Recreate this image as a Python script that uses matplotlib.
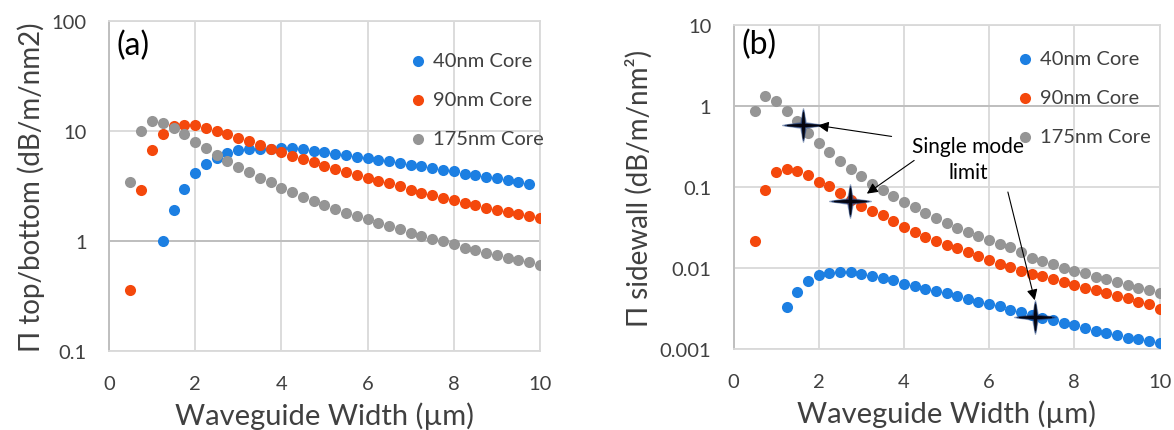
import matplotlib
matplotlib.use("Agg")
import matplotlib.pyplot as plt
from matplotlib.path import Path
from matplotlib.ticker import FixedLocator, FuncFormatter, NullLocator

plt.rcParams['font.family'] = ['Lato', 'DejaVu Sans']

# waveguide widths (um)
width = [0.5, 0.75, 1.0, 1.25, 1.5, 1.75, 2.0, 2.25, 2.5, 2.75,
         3.0, 3.25, 3.5, 3.75, 4.0, 4.25, 4.5, 4.75, 5.0, 5.25,
         5.5, 5.75, 6.0, 6.25, 6.5, 6.75, 7.0, 7.25, 7.5, 7.75,
         8.0, 8.25, 8.5, 8.75, 9.0, 9.25, 9.5, 9.75, 10.0]
width_40_a = width[3:-1]   # 1.25 .. 9.75
width_40_b = width[3:]     # 1.25 .. 10

# (a) top/bottom loss
a_40 = [1.0, 1.90, 2.99, 4.12, 4.98, 5.65, 6.27, 6.68, 6.82, 6.82,
        6.9, 7.05, 6.96, 6.82, 6.63, 6.5, 6.23, 6.05, 5.81, 5.65,
        5.45, 5.34, 5.16, 4.95, 4.8, 4.6, 4.45, 4.3, 4.1, 3.95,
        3.8, 3.7, 3.6, 3.45, 3.27]
a_90 = [0.36, 2.91, 6.7, 9.47, 11.0, 11.3, 11.3, 10.6, 10.0, 9.33,
        8.7, 8.1, 7.45, 6.9, 6.45, 5.97, 5.61, 5.19, 4.81, 4.55,
        4.21, 3.96, 3.74, 3.51, 3.35, 3.16, 2.91, 2.75, 2.62, 2.48,
        2.34, 2.20, 2.11, 2.01, 1.91, 1.84, 1.77, 1.69, 1.62]
a_175 = [3.42, 9.9, 12.3, 11.9, 10.6, 9.3, 8.0, 6.96, 6.1, 5.38,
         4.68, 4.21, 3.74, 3.42, 3.03, 2.79, 2.51, 2.30, 2.11, 1.97,
         1.80, 1.67, 1.57, 1.45, 1.36, 1.28, 1.19, 1.12, 1.05, 0.99,
         0.93, 0.87, 0.83, 0.78, 0.75, 0.70, 0.67, 0.64, 0.60]

# (b) sidewall loss
b_40 = [0.0033, 0.0051, 0.0070, 0.0082, 0.0088, 0.0091, 0.0089, 0.0086, 0.0081, 0.0077,
        0.0071, 0.0065, 0.0060, 0.0056, 0.0052, 0.0049, 0.0045, 0.0042, 0.0039, 0.00365,
        0.0034, 0.0031, 0.0029, 0.00265, 0.00245, 0.00228, 0.00213, 0.00198, 0.00185, 0.00171,
        0.0016, 0.0015, 0.0014, 0.00133, 0.00126, 0.00119]
b_90 = [0.022, 0.093, 0.152, 0.168, 0.16, 0.140, 0.117, 0.103, 0.085, 0.07,
        0.059, 0.051, 0.045, 0.038, 0.0326, 0.0283, 0.0247, 0.0218, 0.0193, 0.0176,
        0.0159, 0.0141, 0.0127, 0.0114, 0.0104, 0.0094, 0.0086, 0.0080, 0.0074, 0.0068,
        0.0063, 0.0058, 0.0054, 0.0050, 0.0046, 0.0043, 0.0039, 0.0036, 0.0032]
b_175 = [0.86, 1.33, 1.14, 0.86, 0.65, 0.47, 0.35, 0.27, 0.21, 0.168,
         0.137, 0.111, 0.093, 0.078, 0.066, 0.057, 0.048, 0.042, 0.0365, 0.0318,
         0.0279, 0.0249, 0.0221, 0.0197, 0.0182, 0.0158, 0.0136, 0.0123, 0.0112, 0.0102,
         0.0094, 0.0087, 0.0079, 0.0074, 0.0068, 0.0063, 0.0058, 0.0054, 0.0050]

# single mode limit points and arrows (text -> star)
sm_x = [1.64, 2.74, 7.07]
sm_y = [0.578, 0.0677, 0.00253]
arrow_from = [(3.71, 0.423), (4.24, 0.214), (6.44, 0.0873)]
arrow_to = [(1.98, 0.578), (3.13, 0.0834), (7.07, 0.00405)]

labels = ["40nm Core", "90nm Core", "175nm Core"]
colors = ["#1c7fe2", "#f4480c", "#959595"]
text_col = "#404040"


def star_path(inner):
    return Path([(0, 1), (inner, inner), (1.25, 0), (inner, -inner), (0, -1),
                 (-inner, -inner), (-1.25, 0), (-inner, inner), (0, 1)],
                [Path.MOVETO] + [Path.LINETO] * 7 + [Path.CLOSEPOLY])


fig = plt.figure(figsize=(11.74, 4.31), dpi=100)
ax1 = fig.add_axes([0.0928, 0.1833, 0.3671, 0.7657])
ax2 = fig.add_axes([0.6248, 0.1868, 0.3629, 0.7529])


def style_axis(ax, ylim, yticks):
    ax.set_yscale('log')
    ax.set_xlim(0, 10)
    ax.set_ylim(*ylim)
    ax.xaxis.set_major_locator(FixedLocator([0, 2, 4, 6, 8, 10]))
    ax.yaxis.set_major_locator(FixedLocator(yticks))
    ax.yaxis.set_minor_locator(NullLocator())
    ax.yaxis.set_major_formatter(FuncFormatter(lambda v, p: f"{v:g}"))
    ax.grid(True, color='#d9d9d9', lw=1.3)
    ax.set_axisbelow(True)
    ax.axhline(1, color='#bfbfbf', lw=1.4, zorder=1)
    for s in ['top', 'right', 'bottom']:
        ax.spines[s].set_color('#d9d9d9')
        ax.spines[s].set_linewidth(1.3)
    ax.spines['left'].set_color('#bfbfbf')
    ax.spines['left'].set_linewidth(1.4)
    ax.tick_params(length=0, labelsize=14.5, labelcolor=text_col)
    ax.tick_params(axis='y', pad=16)
    ax.tick_params(axis='x', pad=17)
    ax.set_xlabel("Waveguide Width (\u00b5m)", fontsize=21, color=text_col, labelpad=7)


# panel (a)
for xs, ys, lab, c in zip([width_40_a, width, width], [a_40, a_90, a_175], labels, colors):
    ax1.scatter(xs, ys, s=64, color=c, label=lab, zorder=3, linewidths=0)
style_axis(ax1, (0.1, 100), [0.1, 1, 10, 100])
ax1.set_ylabel("\u03a0 top/bottom (dB/m/nm2)", fontsize=20, color=text_col, labelpad=5)
ax1.text(0.018, 0.927, "(a)", transform=ax1.transAxes, fontsize=23, va='center', color='black')
ax1.legend(loc='upper left', bbox_to_anchor=(0.705, 0.905), frameon=False, fontsize=14.5,
           handlelength=0.5, handletextpad=0.5, labelspacing=1.08, borderpad=0,
           borderaxespad=0, labelcolor=text_col)

# panel (b)
for xs, ys, lab, c in zip([width_40_b, width, width], [b_40, b_90, b_175], labels, colors):
    ax2.scatter(xs, ys, s=64, color=c, label=lab, zorder=3, linewidths=0)
style_axis(ax2, (0.001, 10), [0.001, 0.01, 0.1, 1, 10])
ax2.set_ylabel("\u03a0 sidewall (dB/m/nm\u00b2)", fontsize=20, color=text_col, labelpad=5)
ax2.text(0.018, 0.941, "(b)", transform=ax2.transAxes, fontsize=23, va='center', color='black')
ax2.legend(loc='upper left', bbox_to_anchor=(0.672, 0.922), frameon=False, fontsize=14.5,
           handlelength=0.5, handletextpad=0.5, labelspacing=1.08, borderpad=0,
           borderaxespad=0, labelcolor=text_col)

ax2.plot(sm_x, sm_y, ls='none', marker=star_path(0.16), markersize=30, color='#24457f',
         alpha=0.45, zorder=4)
ax2.plot(sm_x, sm_y, ls='none', marker=star_path(0.12), markersize=26.5, color='#1b3366',
         alpha=0.8, zorder=4)
ax2.plot(sm_x, sm_y, ls='none', marker=star_path(0.08), markersize=23, color='#05050f', zorder=5)
ax2.text(5.5, 0.224, "Single mode\nlimit", fontsize=15, ha='center', va='center',
         color='black', linespacing=1.4, zorder=6)
for p0, p1 in zip(arrow_from, arrow_to):
    ax2.annotate("", xy=p1, xytext=p0,
                 arrowprops=dict(arrowstyle='-|>', color='black', lw=0.8,
                                 mutation_scale=16, shrinkA=0, shrinkB=0), zorder=6)

fig.savefig("out.png", dpi=100)
